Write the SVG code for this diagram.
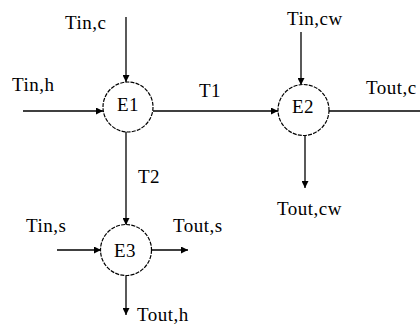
<svg xmlns="http://www.w3.org/2000/svg" width="420" height="324" viewBox="0 0 420 324">
<defs>
<marker id="arr" markerWidth="7" markerHeight="7" refX="7" refY="3.5" orient="auto" markerUnits="userSpaceOnUse">
<path d="M0,0 L7,3.5 L0,7 z" fill="#000"/>
</marker>
<style>
.n circle{fill:#fff;stroke:#000;stroke-width:1.2;stroke-dasharray:4 1.2}
.t{font-family:"Liberation Serif","Times New Roman",serif;font-size:19px;letter-spacing:0.5px;fill:#000}
.c line{stroke:#000;stroke-width:1.3}
.a{marker-end:url(#arr)}
</style>
</defs>
<rect width="420" height="324" fill="#fff"/>
<g id="connectors" class="c">
<line class="a" x1="126" y1="17" x2="126" y2="82"/>
<line class="a" x1="23" y1="111" x2="103" y2="111"/>
<line class="a" x1="153" y1="111" x2="278" y2="111"/>
<line x1="329" y1="111" x2="420" y2="111"/>
<line class="a" x1="301" y1="32" x2="301" y2="85"/>
<line class="a" x1="305" y1="135" x2="305" y2="188"/>
<line class="a" x1="126" y1="132" x2="126" y2="225"/>
<line class="a" x1="57" y1="250" x2="101" y2="250"/>
<line class="a" x1="152" y1="250" x2="188" y2="250"/>
<line class="a" x1="126" y1="276" x2="126" y2="315"/>
</g>
<g id="E1" class="n"><circle cx="128" cy="107" r="25"/><text class="t" x="128" y="111" text-anchor="middle">E1</text></g>
<g id="E2" class="n"><circle cx="303.5" cy="110" r="25.5"/><text class="t" x="303" y="113" text-anchor="middle">E2</text></g>
<g id="E3" class="n"><circle cx="126" cy="250" r="25.5"/><text class="t" x="125" y="257" text-anchor="middle">E3</text></g>
<g id="labels">
<text class="t" x="65" y="29">Tin,c</text>
<text class="t" x="12" y="91">Tin,h</text>
<text class="t" x="199" y="97">T1</text>
<text class="t" x="287" y="25">Tin,cw</text>
<text class="t" x="366" y="94">Tout,c</text>
<text class="t" x="138" y="183">T2</text>
<text class="t" x="277" y="215">Tout,cw</text>
<text class="t" x="26" y="232">Tin,s</text>
<text class="t" x="173" y="232">Tout,s</text>
<text class="t" x="137" y="321">Tout,h</text>
</g>
</svg>
